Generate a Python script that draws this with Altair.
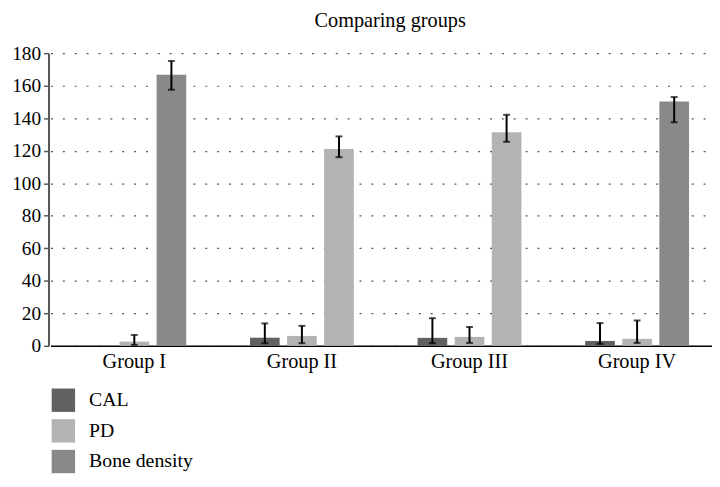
import altair as alt
import pandas as pd

groups = ["Group I", "Group II", "Group III", "Group IV"]
series = ["CAL", "PD", "Bone density"]

cal = [None, 5.0, 4.9, 3.0]
pd_vals = [2.6, 6.1, 5.5, 4.3]
bone = [166.7, 121.0, 131.4, 150.2]

cal_lo = [None, 1.6, 1.6, 1.2]
cal_hi = [None, 13.8, 17.0, 14.0]
pd_lo = [0.6, 1.6, 1.8, 1.8]
pd_hi = [6.7, 12.3, 11.6, 15.6]
bone_lo = [157.5, 116.0, 125.5, 137.5]
bone_hi = [175.2, 128.8, 142.1, 153.0]

y_ticks = [0, 20, 40, 60, 80, 100, 120, 140, 160, 180]

colors = ["#616161", "#b3b3b3", "#898989"]

rows = []
for s, vals, los, his in [("CAL", cal, cal_lo, cal_hi),
                          ("PD", pd_vals, pd_lo, pd_hi),
                          ("Bone density", bone, bone_lo, bone_hi)]:
    for g, v, lo, hi in zip(groups, vals, los, his):
        rows.append({"group": g, "series": s, "value": v, "lo": lo, "hi": hi})
df = pd.DataFrame(rows)

FONT = "Liberation Serif"

x_axis = alt.Axis(domainColor="black", domainWidth=1.5, ticks=False,
                  labelPadding=6, labelAngle=0, grid=False,
                  labelFont=FONT, labelFontSize=20.5, labelColor="black",
                  labelOverlap=False)
y_axis = alt.Axis(values=y_ticks, domainColor="#555555",
                  domainWidth=2, tickColor="#555555", tickSize=5, tickWidth=1.5,
                  labelPadding=3, grid=True, gridColor="#555555",
                  gridDash=[2, 10], gridWidth=1.2,
                  labelFont=FONT, labelFontSize=19.5, labelColor="black",
                  labelOverlap=False, labelFlush=False)
y_scale = alt.Scale(domain=[0, 180], nice=False)

x_enc = alt.X("group:N", sort=groups, title=None,
              scale=alt.Scale(range=[2, 680], paddingInner=0.336, paddingOuter=0.168),
              axis=x_axis)
xo_enc = alt.XOffset("series:N", sort=series,
                     scale=alt.Scale(paddingInner=0.2, paddingOuter=0.1))

base = alt.Chart(df)

bars = base.mark_bar().encode(
    x=x_enc,
    xOffset=xo_enc,
    y=alt.Y("value:Q", title=None, scale=y_scale, axis=y_axis),
    color=alt.condition(
        "datum.series == 'Bone density' && (datum.group == 'Group II' || datum.group == 'Group III')",
        alt.value("#b3b3b3"),
        alt.Color("series:N", sort=series,
                  scale=alt.Scale(domain=series, range=colors),
                  legend=alt.Legend(title=None, orient="none", legendX=3, legendY=339,
                                    direction="vertical", symbolType="square",
                                    symbolSize=560, symbolStrokeWidth=0,
                                    symbolOpacity=1, rowPadding=7, labelOffset=14,
                                    padding=0, labelFont=FONT, labelFontSize=20,
                                    labelColor="black")),
    ),
)

err_base = base.transform_filter("isValid(datum.lo)")

rules = err_base.mark_rule(color="black", strokeWidth=2).encode(
    x=x_enc, xOffset=xo_enc,
    y=alt.Y("lo:Q", title=None, scale=y_scale, axis=y_axis), y2="hi:Q")
cap_lo = err_base.mark_tick(color="black", size=7, thickness=2, orient="horizontal").encode(
    x=x_enc, xOffset=xo_enc, y=alt.Y("lo:Q", title=None, scale=y_scale, axis=y_axis))
cap_hi = err_base.mark_tick(color="black", size=7, thickness=2, orient="horizontal").encode(
    x=x_enc, xOffset=xo_enc, y=alt.Y("hi:Q", title=None, scale=y_scale, axis=y_axis))

chart = alt.layer(bars, rules, cap_lo, cap_hi).properties(
    width=671, height=296,
    title=alt.TitleParams("Comparing groups", font=FONT, fontSize=20.5, fontWeight="normal",
                          color="black", anchor="middle", offset=12, dx=10),
    autosize=alt.AutoSizeParams(type="none"),
    padding={"left": 41, "top": 43, "right": 0, "bottom": 131},
).configure_view(stroke=None).configure_axis(
    labelFont=FONT, labelColor="black"
).configure_legend(
    labelFont=FONT, labelColor="black"
)

chart.save("out.html", embed_options={"renderer": "svg", "actions": False})
